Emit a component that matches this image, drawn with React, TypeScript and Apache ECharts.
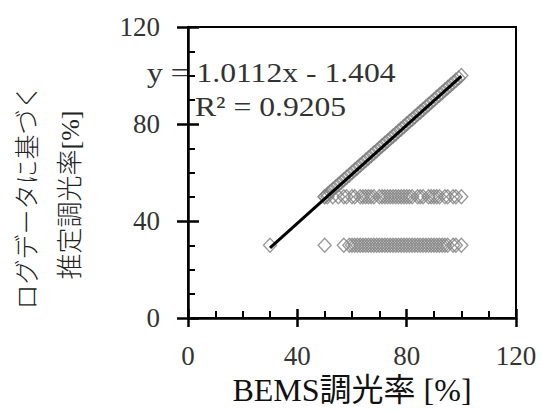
import React, { useEffect, useRef } from "react";
import * as echarts from "echarts";

const xTicks = [0, 40, 80, 120];
const yTicks = [0, 40, 80, 120];

// points along the 1:1 line (BEMS, estimated)
const diagX = [50, 51, 52, 53, 54, 55, 56, 57, 58, 59, 60, 61, 62, 63, 64, 65, 66, 67, 68, 69, 70, 71, 72, 73, 74, 75, 76, 77, 78, 79, 80, 81, 82, 83, 84, 85, 86, 87, 88, 89, 90, 91, 92, 93, 94, 95, 96, 97, 98, 99, 100];
const diagY = [50, 51, 52, 53, 54, 55, 56, 57, 58, 59, 60, 61, 62, 63, 64, 65, 66, 67, 68, 69, 70, 71, 72, 73, 74, 75, 76, 77, 78, 79, 80, 81, 82, 83, 84, 85, 86, 87, 88, 89, 90, 91, 92, 93, 94, 95, 96, 97, 98, 99, 100];

// points where the estimate is 50
const row50X = [50, 51, 53, 55, 57, 58, 60, 61, 63, 64, 65, 66, 67, 68, 70, 71, 72, 73, 74, 75, 76, 77, 78, 79, 80, 81, 82, 84, 85, 86, 88, 89, 90, 91, 92, 94, 95, 97, 98, 100];
const row50Y = 50;

// points where the estimate is 30
const row30X = [30, 50, 57, 59, 60, 61, 62, 63, 64, 65, 66, 67, 68, 69, 70, 71, 72, 73, 74, 75, 76, 77, 78, 79, 80, 81, 82, 83, 84, 85, 86, 87, 88, 89, 90, 91, 92, 93, 94, 95, 97, 98, 100];
const row30Y = 30;

// regression line endpoints: y = 1.0112x - 1.404
const trendX = [30, 100];
const trendY = [28.93, 99.72];

const equationText = "y = 1.0112x - 1.404";
const r2Text = "R² = 0.9205";
const xTitle = "BEMS調光率 [%]";
const yTitleLine1 = "ログデータに基づく";
const yTitleLine2 = "推定調光率[%]";

const SERIF = "Liberation Serif";
const MIXED = "Liberation Serif, Noto Sans CJK JP";

export default function App() {
  const ref = useRef<HTMLDivElement>(null);
  useEffect(() => {
    if (!ref.current) return;
    const chart = echarts.init(ref.current, null, { renderer: "svg" });
    const scatterData: number[][] = [];
    diagX.forEach((x, i) => scatterData.push([x, diagY[i]]));
    row50X.forEach((x) => scatterData.push([x, row50Y]));
    row30X.forEach((x) => scatterData.push([x, row30Y]));
    const trendData = trendX.map((x, i) => [x, trendY[i]]);

    const baseAxis = {
      type: "value",
      min: 0,
      max: 120,
      interval: 40,
      splitLine: { show: false },
    };

    chart.setOption({
      animation: false,
      backgroundColor: "#fff",
      grid: {
        left: 188,
        right: 26,
        top: 27,
        bottom: 94,
        show: true,
        borderColor: "#000",
        borderWidth: 2,
        backgroundColor: "transparent",
      },
      xAxis: [
        {
          ...baseAxis,
          position: "bottom",
          axisLine: { show: true, onZero: false, lineStyle: { color: "#000", width: 2.5 } },
          axisTick: { show: true, inside: false, length: 9, lineStyle: { color: "#000", width: 2.5 } },
          axisLabel: {
            show: true,
            margin: 24,
            fontSize: 27,
            fontFamily: SERIF,
            color: "#333",
            formatter: (v: number) => (xTicks.includes(v) ? String(v) : ""),
          },
          name: xTitle,
          nameLocation: "middle",
          nameGap: 55,
          nameTextStyle: { fontSize: 32, fontFamily: MIXED, color: "#111" },
        },
        {
          ...baseAxis,
          position: "bottom",
          axisLine: { show: false, onZero: false },
          axisTick: { show: true, inside: true, length: 9, lineStyle: { color: "#000", width: 2.5 } },
          minorTick: { show: true, splitNumber: 4, length: 7, lineStyle: { color: "#000", width: 2 } },
          axisLabel: { show: false },
        },
      ],
      yAxis: [
        {
          ...baseAxis,
          position: "left",
          axisLine: { show: true, onZero: false, lineStyle: { color: "#000", width: 2.5 } },
          axisTick: { show: true, inside: false, length: 11, lineStyle: { color: "#000", width: 2.5 } },
          axisLabel: {
            show: true,
            margin: 28,
            fontSize: 27,
            fontFamily: SERIF,
            color: "#333",
            formatter: (v: number) => (yTicks.includes(v) ? String(v) : ""),
          },
        },
        {
          ...baseAxis,
          position: "left",
          axisLine: { show: false, onZero: false },
          axisTick: { show: true, inside: true, length: 11, lineStyle: { color: "#000", width: 2.5 } },
          minorTick: { show: true, splitNumber: 4, length: 7, lineStyle: { color: "#000", width: 2 } },
          axisLabel: { show: false },
        },
      ],
      graphic: [
        {
          type: "text",
          x: 147,
          y: 72,
          scaleX: 1.13,
          z: 100,
          style: { text: equationText, fontSize: 28, fontFamily: SERIF, fill: "#333", align: "left", verticalAlign: "middle" },
        },
        {
          type: "text",
          x: 195,
          y: 106,
          scaleX: 1.13,
          z: 100,
          style: { text: r2Text, fontSize: 28, fontFamily: SERIF, fill: "#333", align: "left", verticalAlign: "middle" },
        },
        {
          type: "text",
          x: 27,
          y: 197,
          rotation: Math.PI / 2,
          style: {
            text: yTitleLine1,
            fontSize: 25,
            fontFamily: MIXED,
            fill: "#222",
            fontWeight: 300,
            align: "center",
            verticalAlign: "middle",
          },
        },
        {
          type: "text",
          x: 70,
          y: 195,
          rotation: Math.PI / 2,
          style: {
            text: yTitleLine2,
            fontSize: 26,
            fontFamily: MIXED,
            fill: "#222",
            fontWeight: 300,
            align: "center",
            verticalAlign: "middle",
          },
        },
      ],
      series: [
        {
          type: "scatter",
          xAxisIndex: 0,
          yAxisIndex: 0,
          data: scatterData,
          symbol: "diamond",
          symbolSize: [13, 14],
          itemStyle: { color: "rgba(0,0,0,0)", borderColor: "#808080", borderWidth: 1.4 },
          z: 2,
        },
        {
          type: "line",
          xAxisIndex: 0,
          yAxisIndex: 0,
          data: trendData,
          symbol: "none",
          lineStyle: { color: "#000", width: 3 },
          z: 3,
        },
      ],
    });
    return () => chart.dispose();
  }, []);
  return <div ref={ref} style={{ width: 542, height: 412, position: "absolute", left: 0, top: 0 }} />;
}
